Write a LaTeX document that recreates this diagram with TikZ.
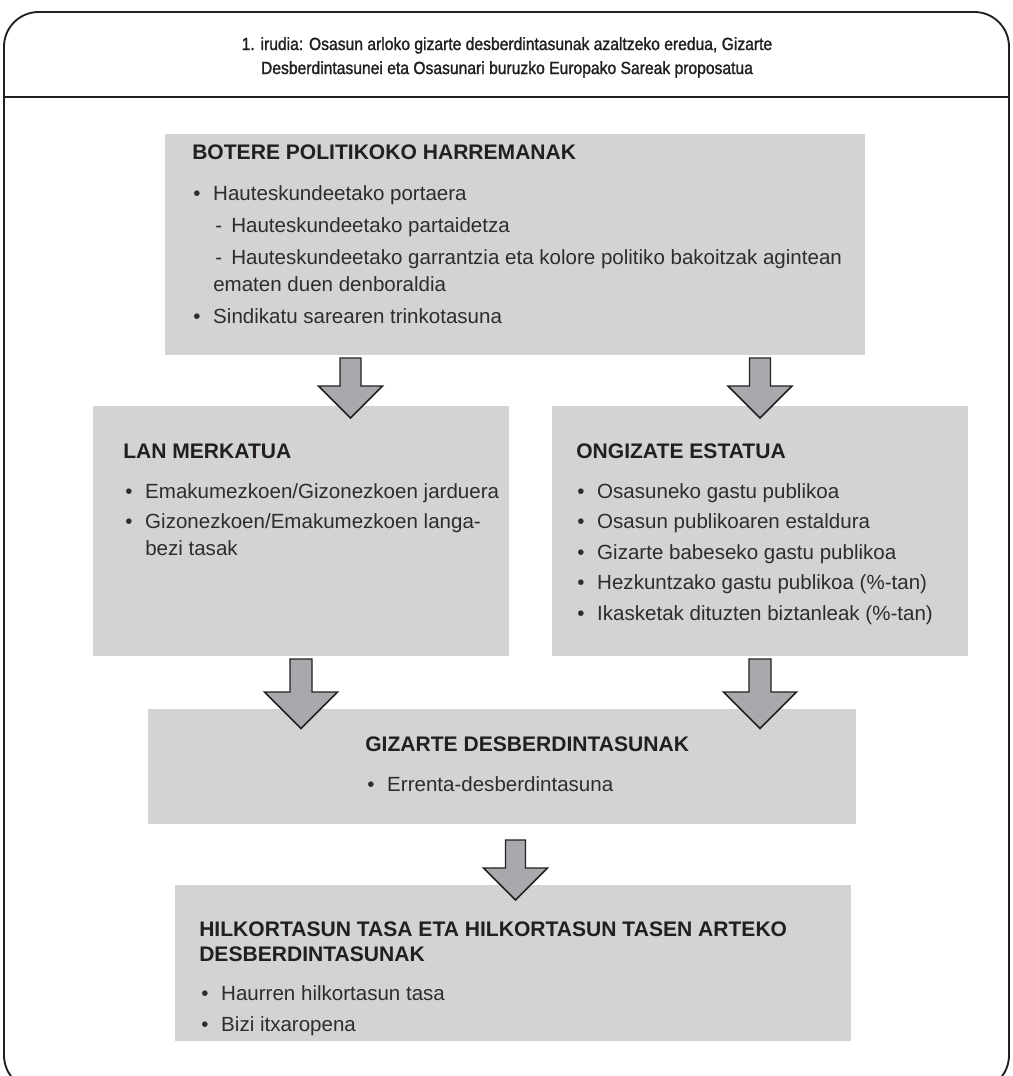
\documentclass[tikz,border=0pt]{standalone}
\usepackage{fontspec}
\setmainfont{Liberation Sans}
\newfontfamily\ttlfont[FakeBold=1.5,FakeStretch=0.89]{Liberation Sans}
\usetikzlibrary{calc}
\definecolor{boxgray}{HTML}{D1D3D4}
\definecolor{arrgray}{HTML}{A7A9AC}
\definecolor{ink}{HTML}{231F20}
\definecolor{txtink}{HTML}{302C2D}
\newcommand{\bul}[1]{\makebox[15pt][l]{\textbullet}#1}
\newcommand{\dsh}[1]{\makebox[12pt][l]{-}#1}
\begin{document}
\begin{tikzpicture}[x=0.75pt,y=-0.75pt,
  box/.style={fill=boxgray, draw=none, anchor=north west, inner sep=0pt, outer sep=0pt},
  hd/.style={anchor=base west, inner sep=0pt, text=ink, font=\fontsize{15.8pt}{18pt}\selectfont\bfseries},
  tx/.style={anchor=base west, inner sep=0pt, text=txtink, font=\fontsize{15.4pt}{18pt}\selectfont},
  ttl/.style={anchor=base, inner sep=0pt, text=ink, font=\ttlfont\fontsize{13.2pt}{18pt}\selectfont},
  arr/.style={fill=arrgray, draw=ink, line width=1.1pt, line join=miter},
  pics/darrow/.style args={#1/#2/#3}{code={
    \draw[arr] (-#1,0) -- (#1,0) -- (#1,#2) -- (#3,#2) -- (0,{#2+#3}) -- (-#3,#2) -- (-#1,#2) -- cycle;
  }}
]
\useasboundingbox (0,0) rectangle (1013,1076);
% frame
\draw[ink, line width=1.4pt, rounded corners=26pt] (4,12) rectangle (1009,1090);
% title
\node[ttl] (t1) at (507,50) {1. irudia: Osasun arloko gizarte desberdintasunak azaltzeko eredua, Gizarte};
\node[ttl] (t2) at (507,74) {Desberdintasunei eta Osasunari buruzko Europako Sareak proposatua};
\draw[ink, line width=0.8pt] (4,97) -- (1009,97);

% boxes
\node[box, minimum width=700*0.75pt, minimum height=221*0.75pt] (b1) at (165,134) {};
\node[box, minimum width=416*0.75pt, minimum height=250*0.75pt] (b2l) at (93,406) {};
\node[box, minimum width=416*0.75pt, minimum height=250*0.75pt] (b2r) at (552,406) {};
\node[box, minimum width=708*0.75pt, minimum height=115*0.75pt] (b3) at (148,709) {};
\node[box, minimum width=676*0.75pt, minimum height=156*0.75pt] (b4) at (175,885) {};

% box 1 text
\node[hd] (b1h) at ($(b1.north west)+(27,25)$) {BOTERE POLITIKOKO HARREMANAK};
\node[tx] (b1a) at ($(b1.north west)+(28,66)$) {\bul{Hauteskundeetako portaera}};
\node[tx] (b1b) at ($(b1.north west)+(50,98)$) {\dsh{Hauteskundeetako partaidetza}};
\node[tx] (b1c) at ($(b1.north west)+(50,130)$) {\dsh{Hauteskundeetako garrantzia eta kolore politiko bakoitzak agintean}};
\node[tx] (b1d) at ($(b1.north west)+(48,157)$) {ematen duen denboraldia};
\node[tx] (b1e) at ($(b1.north west)+(28,189)$) {\bul{Sindikatu sarearen trinkotasuna}};

% box 2 left
\node[hd] (b2lh) at ($(b2l.north west)+(30,52)$) {LAN MERKATUA};
\node[tx] (b2la) at ($(b2l.north west)+(32,92)$) {\bul{Emakumezkoen/Gizonezkoen jarduera}};
\node[tx] (b2lb) at ($(b2l.north west)+(32,122.5)$) {\bul{Gizonezkoen/Emakumezkoen langa-}};
\node[tx] (b2lc) at ($(b2l.north west)+(52,149)$) {bezi tasak};

% box 2 right
\node[hd] (b2rh) at ($(b2r.north west)+(24,52)$) {ONGIZATE ESTATUA};
\node[tx] (b2ra) at ($(b2r.north west)+(25,92)$) {\bul{Osasuneko gastu publikoa}};
\node[tx] (b2rb) at ($(b2r.north west)+(25,122.5)$) {\bul{Osasun publikoaren estaldura}};
\node[tx] (b2rc) at ($(b2r.north west)+(25,153)$) {\bul{Gizarte babeseko gastu publikoa}};
\node[tx] (b2rd) at ($(b2r.north west)+(25,183.5)$) {\bul{Hezkuntzako gastu publikoa (\%-tan)}};
\node[tx] (b2re) at ($(b2r.north west)+(25,214)$) {\bul{Ikasketak dituzten biztanleak (\%-tan)}};

% box 3
\node[hd] (b3h) at ($(b3.north west)+(217,42)$) {GIZARTE DESBERDINTASUNAK};
\node[tx] (b3a) at ($(b3.north west)+(219,82)$) {\bul{Errenta-desberdintasuna}};

% box 4
\node[hd] (b4h1) at ($(b4.north west)+(24,51)$) {HILKORTASUN TASA ETA HILKORTASUN TASEN ARTEKO};
\node[hd] (b4h2) at ($(b4.north west)+(24,76)$) {DESBERDINTASUNAK};
\node[tx] (b4a) at ($(b4.north west)+(26,115)$) {\bul{Haurren hilkortasun tasa}};
\node[tx] (b4b) at ($(b4.north west)+(26,146)$) {\bul{Bizi itxaropena}};

% block arrows
\pic at ($(b1.south west)+(185.5,3)$) {darrow={10.5/28/32}};
\pic at ($(b2r.north)+(0,-48)$) {darrow={10.5/28/32}};
\pic at ($(b2l.south)+(0,3)$) {darrow={11/33/36.5}};
\pic at ($(b2r.south)+(0,3)$) {darrow={11/33/36.5}};
\pic at ($(b4.north)+(2.5,-45)$) {darrow={10/28/32}};
\end{tikzpicture}
\end{document}
